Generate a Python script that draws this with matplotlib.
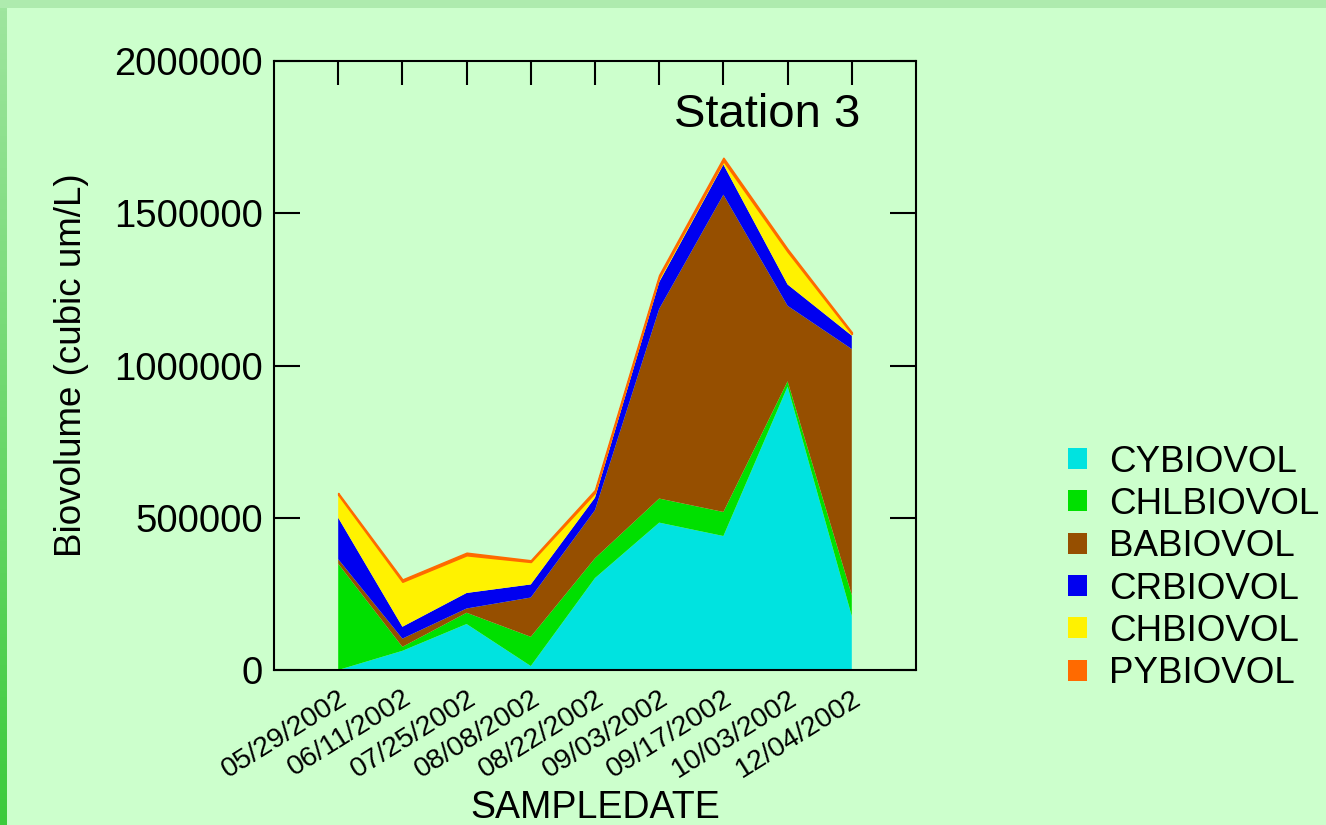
import numpy as np
import matplotlib
matplotlib.use("Agg")
import matplotlib.pyplot as plt
from matplotlib.patches import Patch, Rectangle
from matplotlib.colors import LinearSegmentedColormap

dates = ["05/29/2002", "06/11/2002", "07/25/2002", "08/08/2002", "08/22/2002",
         "09/03/2002", "09/17/2002", "10/03/2002", "12/04/2002"]
series_names = ["CYBIOVOL", "CHLBIOVOL", "BABIOVOL", "CRBIOVOL", "CHBIOVOL", "PYBIOVOL"]
cybiovol = [0, 63000, 151000, 13000, 302000, 484000, 440000, 931000, 177000]
chlbiovol = [349000, 13000, 37000, 96000, 65000, 79000, 79000, 17000, 69000]
babiovol = [15000, 27000, 14000, 129000, 158000, 623000, 1042000, 248000, 808000]
crbiovol = [136000, 39000, 51000, 43000, 41000, 88000, 99000, 70000, 44000]
chbiovol = [76000, 148000, 124000, 74000, 17000, 15000, 12000, 108000, 6000]
pybiovol = [5000, 7000, 8000, 5000, 8000, 8000, 10000, 8000, 5000]
colors = ["#00E3E0", "#00E000", "#964F00", "#0000F0", "#FFF200", "#FF6A00"]

plt.rcParams['font.family'] = ['Liberation Sans', 'DejaVu Sans']

fig = plt.figure(figsize=(13.26, 8.25), dpi=100)
fig.patch.set_facecolor("#CCFFCC")

# border strips
fig.add_artist(Rectangle((0, 1 - 8 / 825), 1, 8 / 825, transform=fig.transFigure,
                         facecolor="#AEEBAE", edgecolor="none", zorder=0))
bg_ax = fig.add_axes([0, 0, 7 / 1326, 1 - 8 / 825], zorder=-1)
grad = np.linspace(0, 1, 256).reshape(-1, 1)
cmap = LinearSegmentedColormap.from_list("g", ["#3CCB3C", "#9EE59E"])
bg_ax.imshow(grad, aspect="auto", cmap=cmap, origin="lower", extent=[0, 1, 0, 1])
bg_ax.set_axis_off()

ax = fig.add_axes([274 / 1326, 155 / 825, 642 / 1326, 609 / 825])
ax.set_facecolor("#CCFFCC")

x = np.arange(1, len(dates) + 1)
data = [cybiovol, chlbiovol, babiovol, crbiovol, chbiovol, pybiovol]
polys = ax.stackplot(x, *data, colors=colors, linewidth=0)
polys[-1].set_edgecolor(colors[-1])
polys[-1].set_linewidth(1.2)

ax.set_xlim(0, 10)
ax.set_ylim(0, 2000000)
ax.set_yticks([0, 500000, 1000000, 1500000, 2000000])
ax.set_yticklabels(["0", "500000", "1000000", "1500000", "2000000"])
ax.set_xticks(x)
ax.set_xticklabels(dates, rotation=32, ha="right", va="top", rotation_mode="anchor", fontsize=20.5)
ax.tick_params(axis="y", direction="in", length=19, width=1.5, labelsize=27.5, right=True, pad=8)
ax.tick_params(axis="x", direction="in", length=17, width=1.5, top=True, bottom=False, pad=11)
for s in ax.spines.values():
    s.set_linewidth(1.5)

ax.set_xlabel("SAMPLEDATE", fontsize=27, labelpad=5)
ax.set_ylabel("Biovolume (cubic um/L)", fontsize=26.5, labelpad=18)
ax.text(0.913, 0.912, "Station 3", transform=ax.transAxes, fontsize=34,
        ha="right", va="center")

handles = [Patch(facecolor=c, edgecolor="none") for c in colors]
fig.legend(handles, series_names, loc="center left", bbox_to_anchor=(1050 / 1326, 1 - 568 / 825),
           frameon=False, fontsize=26.5, handlelength=0.5, handleheight=0.5,
           handletextpad=0.6, labelspacing=0.2, borderpad=0)

fig.savefig("out.png", dpi=100, facecolor=fig.get_facecolor())
